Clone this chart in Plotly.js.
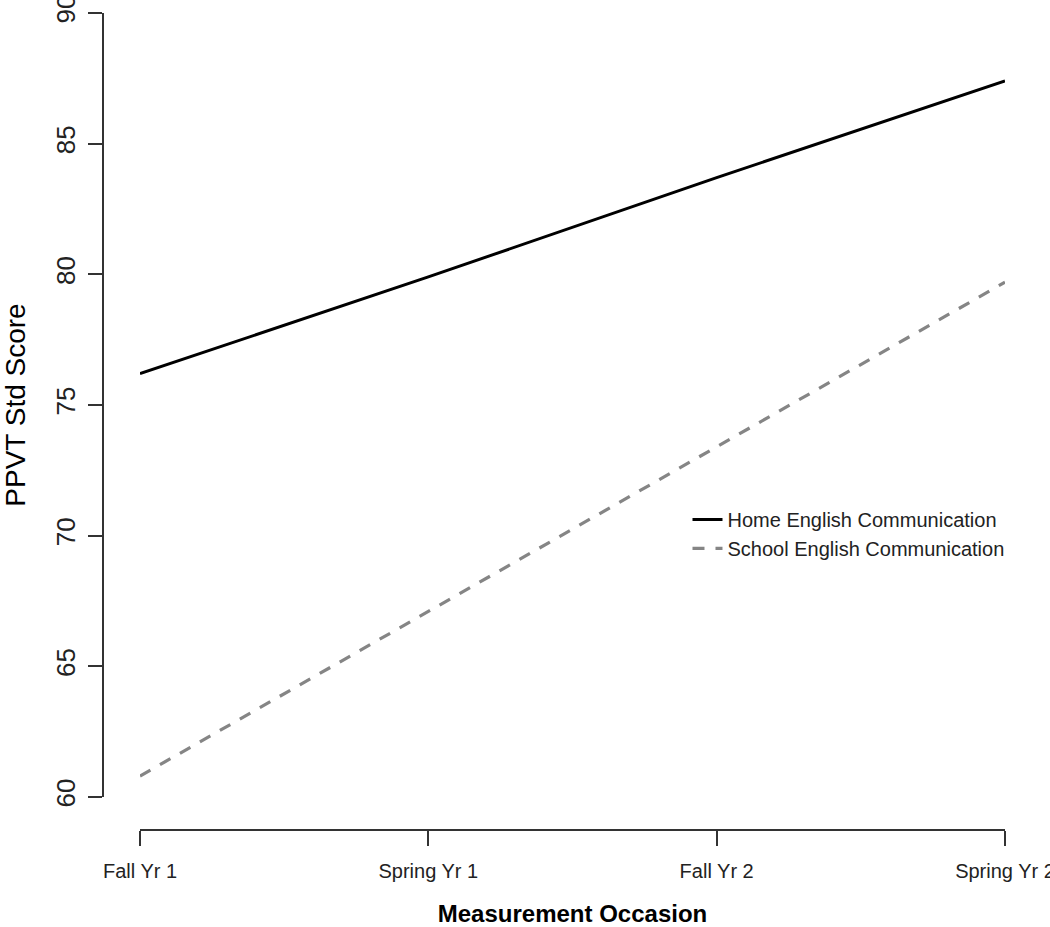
<!DOCTYPE html>
<html>
<head>
<meta charset="utf-8">
<script src="https://cdn.plot.ly/plotly-3.0.1.min.js"></script>
<style>html,body{margin:0;padding:0;background:#fff;}#chart{width:1050px;height:927px;}</style>
</head>
<body>
<div id="chart"></div>
<script>
var occasions = ["Fall Yr 1", "Spring Yr 1", "Fall Yr 2", "Spring Yr 2"];
var homeScores = [76.2, 79.9, 83.7, 87.4];
var schoolScores = [60.8, 67.1, 73.4, 79.7];
var seriesNames = ["Home English Communication", "School English Communication"];
var yTicks = [60, 65, 70, 75, 80, 85, 90];

var font = "Liberation Sans, Arial, Helvetica, sans-serif";
var axisColor = "#333333";

var traces = [
  {x: occasions, y: homeScores, name: seriesNames[0], type: "scatter", mode: "lines",
   line: {color: "#000000", width: 3}},
  {x: occasions, y: schoolScores, name: seriesNames[1], type: "scatter", mode: "lines",
   line: {color: "#858585", width: 3.2, dash: "12px,11px"}}
];

var layout = {
  width: 1050, height: 927,
  margin: {l: 103, r: 45, t: 13, b: 97},
  paper_bgcolor: "#ffffff", plot_bgcolor: "#ffffff",
  showlegend: true,
  legend: {x: 0.648, y: 0.404, xanchor: "left", yanchor: "top", xref: "paper", yref: "paper",
           bgcolor: "rgba(0,0,0,0)", borderwidth: 0, tracegroupgap: 0,
           font: {family: font, size: 20, color: "#222"}},
  xaxis: {
    type: "category", range: [0, 3], domain: [37/902, 1], anchor: "free", position: 0,
    showgrid: false, zeroline: false, showline: true, linecolor: axisColor, linewidth: 2,
    ticks: "outside", ticklen: 15, tickwidth: 2, tickcolor: axisColor,
    ticklabelstandoff: 8,
    tickfont: {family: font, size: 20, color: "#222"},
    title: {text: "Measurement Occasion", font: {family: font, size: 24, color: "#000", weight: "bold"}, standoff: 31}
  },
  yaxis: {
    range: [60, 90], domain: [33/817, 1], anchor: "free", position: 0,
    tickvals: yTicks, ticktext: yTicks.map(String), tickangle: -90,
    ticklabeloverflow: "allow",
    showgrid: false, zeroline: false, showline: true, linecolor: axisColor, linewidth: 2,
    ticks: "outside", ticklen: 14, tickwidth: 2, tickcolor: axisColor,
    ticklabelstandoff: 3,
    tickfont: {family: font, size: 26, color: "#222"},
    title: {text: "PPVT Std Score", font: {family: font, size: 28, color: "#000"}, standoff: 30}
  }
};

Plotly.newPlot("chart", traces, layout, {displayModeBar: false, staticPlot: true});
</script>
</body>
</html>
